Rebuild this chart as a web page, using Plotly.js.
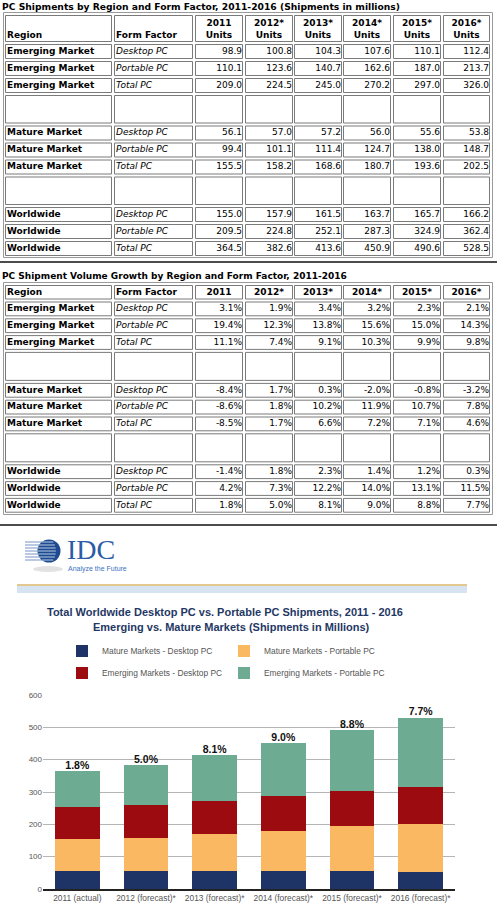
<!DOCTYPE html>
<html><head><meta charset="utf-8">
<script src="https://cdn.plot.ly/plotly-3.0.1.min.js"></script>
<style>html,body{margin:0;padding:0;background:#fff;} #chart{width:497px;height:912px;}</style>
</head><body><div id="chart"></div>
<script>
// ---------------- DATA ----------------
const years = ['2011', '2012*', '2013*', '2014*', '2015*', '2016*'];
const regionEmerging = 'Emerging Market';
const regionMature = 'Mature Market';
const regionWorld = 'Worldwide';
const formFactors = ['Desktop PC', 'Portable PC', 'Total PC'];

const emDesktop = [98.9, 100.8, 104.3, 107.6, 110.1, 112.4];
const emPortable = [110.1, 123.6, 140.7, 162.6, 187.0, 213.7];
const emTotal = [209.0, 224.5, 245.0, 270.2, 297.0, 326.0];
const maDesktop = [56.1, 57.0, 57.2, 56.0, 55.6, 53.8];
const maPortable = [99.4, 101.1, 111.4, 124.7, 138.0, 148.7];
const maTotal = [155.5, 158.2, 168.6, 180.7, 193.6, 202.5];
const wwDesktop = [155.0, 157.9, 161.5, 163.7, 165.7, 166.2];
const wwPortable = [209.5, 224.8, 252.1, 287.3, 324.9, 362.4];
const wwTotal = [364.5, 382.6, 413.6, 450.9, 490.6, 528.5];

const emDesktopG = [3.1, 1.9, 3.4, 3.2, 2.3, 2.1];
const emPortableG = [19.4, 12.3, 13.8, 15.6, 15.0, 14.3];
const emTotalG = [11.1, 7.4, 9.1, 10.3, 9.9, 9.8];
const maDesktopG = [-8.4, 1.7, 0.3, -2.0, -0.8, -3.2];
const maPortableG = [-8.6, 1.8, 10.2, 11.9, 10.7, 7.8];
const maTotalG = [-8.5, 1.7, 6.6, 7.2, 7.1, 4.6];
const wwDesktopG = [-1.4, 1.8, 2.3, 1.4, 1.2, 0.3];
const wwPortableG = [4.2, 7.3, 12.2, 14.0, 13.1, 11.5];
const wwTotalG = [1.8, 5.0, 8.1, 9.0, 8.8, 7.7];

const chartCategories = ['2011 (actual)', '2012 (forecast)*', '2013 (forecast)*', '2014 (forecast)*', '2015 (forecast)*', '2016 (forecast)*'];
const seriesNames = ['Mature Markets - Desktop PC', 'Mature Markets - Portable PC', 'Emerging Markets - Desktop PC', 'Emerging Markets - Portable PC'];

// ---------------- LAYOUT HELPERS ----------------
const W = 497, H = 912;
const TOPH = 525;               // height of the table area (pixel axis x2/y2)
const px = x => x / W;
const py = y => 1 - y / H;
const TFONT = 'DejaVu Sans';

const colL = [5, 114, 195, 245, 294, 343, 393, 443];
const colR = [112, 193, 243, 293, 342, 391, 441, 490];

function rowsGeom(start, kinds, hH, dH, bH, gap) {
  let y = start; const out = [];
  kinds.forEach(k => { const h = k === 'h' ? hH : (k === 'd' ? dH : bH); out.push({k, top: y, bot: y + h, mid: y + h / 2}); y += h + gap; });
  return out;
}
const kinds = ['h','d','d','d','b','d','d','d','b','d','d','d'];
const g1 = rowsGeom(15, kinds, 27, 15, 28.5, 2);
const g2 = rowsGeom(285, kinds, 14.5, 14.8, 29, 2);

const shapes = [];
function tableShapes(geom, outerTop, outerBot) {
  shapes.push({type: 'rect', xref: 'x2', yref: 'y2', x0: 3.5, x1: 492.5, y0: outerTop, y1: outerBot, line: {color: '#9a9a9a', width: 1}});
  geom.forEach(r => colL.forEach((l, i) => shapes.push({type: 'rect', xref: 'x2', yref: 'y2',
    x0: l + 0.5, x1: colR[i] - 0.5, y0: r.top + 0.5, y1: r.bot - 0.5, line: {color: '#7a7a7a', width: 1}})));
}
tableShapes(g1, 12.5, 257.5);
tableShapes(g2, 282.5, 514.5);

// text cells: placed through the hidden pixel axes x2/y2
function cellCollector() { return {x: [], y: [], text: [], pos: []}; }
function addCell(c, col, yMid, txt, align) {
  let x, p;
  if (align === 'left') { x = colL[col] + 2; p = 'middle right'; }
  else if (align === 'right') { x = colR[col] - 1; p = 'middle left'; }
  else { x = (colL[col] + colR[col]) / 2; p = 'middle center'; }
  c.x.push(x); c.y.push(yMid); c.text.push(txt); c.pos.push(p);
}
function addBlock(c, geomRows, region, series, fmt) {
  series.forEach((s, r) => {
    const ym = geomRows[r].mid;
    addCell(c, 0, ym, '<b>' + region + '</b>', 'left');
    addCell(c, 1, ym, '<i>' + formFactors[r] + '</i>', 'left');
    years.forEach((y, j) => addCell(c, j + 2, ym, fmt(s[j]), 'right'));
  });
}
const fmtU = v => v.toFixed(1);
const fmtG = v => v.toFixed(1) + '%';

const t1 = cellCollector();
// two-line header of table 1 (baselines ~27 and ~39)
const h1a = 27 - 3.2, h1b = 39 - 3.2;
addCell(t1, 0, h1b, '<b>Region</b>', 'left');
addCell(t1, 1, h1b, '<b>Form Factor</b>', 'left');
years.forEach((y, j) => { addCell(t1, j + 2, h1a, '<b>' + y + '</b>', 'center'); addCell(t1, j + 2, h1b, '<b>Units</b>', 'center'); });
addBlock(t1, g1.slice(1, 4), regionEmerging, [emDesktop, emPortable, emTotal], fmtU);
addBlock(t1, g1.slice(5, 8), regionMature, [maDesktop, maPortable, maTotal], fmtU);
addBlock(t1, g1.slice(9, 12), regionWorld, [wwDesktop, wwPortable, wwTotal], fmtU);

const t2 = cellCollector();
addCell(t2, 0, g2[0].mid, '<b>Region</b>', 'left');
addCell(t2, 1, g2[0].mid, '<b>Form Factor</b>', 'left');
years.forEach((y, j) => addCell(t2, j + 2, g2[0].mid, '<b>' + y + '</b>', 'center'));
addBlock(t2, g2.slice(1, 4), regionEmerging, [emDesktopG, emPortableG, emTotalG], fmtG);
addBlock(t2, g2.slice(5, 8), regionMature, [maDesktopG, maPortableG, maTotalG], fmtG);
addBlock(t2, g2.slice(9, 12), regionWorld, [wwDesktopG, wwPortableG, wwTotalG], fmtG);

const traces = [];
[t1, t2].forEach((c, i) => traces.push({type: 'scatter', mode: 'text', xaxis: 'x2', yaxis: 'y2',
  name: i === 0 ? 'PC Shipments table' : 'Growth table', x: c.x, y: c.y, text: c.text, textposition: c.pos,
  textfont: {family: TFONT, size: 9, color: '#000'}, showlegend: false, cliponaxis: false, hoverinfo: 'skip'}));

// ---------------- BAR CHART ----------------
const barColors = ['#1f3466', '#fbb863', '#9b0b10', '#6dab93'];
const barSeries = [maDesktop, maPortable, emDesktop, emPortable];
barSeries.forEach((s, i) => traces.push({type: 'bar', x: chartCategories, y: s, name: seriesNames[i],
  marker: {color: barColors[i], line: {width: 0}}, legend: i < 2 ? 'legend' : 'legend2', hoverinfo: 'skip'}));
traces.push({type: 'scatter', mode: 'text', x: chartCategories, y: wwTotal, text: wwTotalG.map(fmtG),
  textposition: 'top center', textfont: {family: 'Liberation Sans', size: 10.5, color: '#111', weight: 'bold'},
  showlegend: false, cliponaxis: false, hoverinfo: 'skip'});

// separators & logo decoration
shapes.push({type: 'line', xref: 'paper', yref: 'paper', x0: 0, x1: 1, y0: py(262), y1: py(262), line: {color: '#111', width: 1.5}});
shapes.push({type: 'line', xref: 'paper', yref: 'paper', x0: 0, x1: 1, y0: py(525), y1: py(525), line: {color: '#111', width: 1.5}});
shapes.push({type: 'line', xref: 'paper', yref: 'paper', x0: px(17), x1: px(467), y0: py(585), y1: py(585), line: {color: '#d8b568', width: 1.5}});
shapes.push({type: 'rect', xref: 'paper', yref: 'paper', x0: px(17), x1: px(467), y0: py(586), y1: py(593), fillcolor: '#d6e4f1', line: {width: 0}});
const gcx = 49, gcy = 551, gr = 11.5;
shapes.push({type: 'circle', xref: 'paper', yref: 'paper', x0: px(gcx - 16), x1: px(gcx + 14), y0: py(566), y1: py(572), fillcolor: '#e2e2e2', line: {width: 0}});
for (let k = 0; k < 7; k++) {
  const yy = 542 + 3 * k;
  shapes.push({type: 'line', xref: 'paper', yref: 'paper', x0: px(25), x1: px(gcx), y0: py(yy), y1: py(yy), line: {color: '#8ea7cf', width: 1.2}});
}
shapes.push({type: 'circle', xref: 'paper', yref: 'paper', x0: px(gcx - gr), x1: px(gcx + gr), y0: py(gcy + gr), y1: py(gcy - gr), fillcolor: '#1d4a90', line: {width: 0}});
for (let k = 0; k < 7; k++) {
  const yy = 542 + 3 * k, dy = yy - gcy;
  const hw = Math.sqrt(Math.max(0, gr * gr - dy * dy));
  shapes.push({type: 'line', xref: 'paper', yref: 'paper', x0: px(gcx - hw), x1: px(gcx + hw * 0.6), y0: py(yy), y1: py(yy), line: {color: 'rgba(215,228,246,0.85)', width: 1}});
}

const annotations = [
  {x: px(1), y: py(6.5), text: '<b>PC Shipments by Region and Form Factor, 2011-2016 (Shipments in millions)</b>', xanchor: 'left', font: {family: TFONT, size: 9.2, color: '#000'}},
  {x: px(1), y: py(276), text: '<b>PC Shipment Volume Growth by Region and Form Factor, 2011-2016</b>', xanchor: 'left', font: {family: TFONT, size: 9, color: '#000'}},
  {x: px(66), y: py(549), text: 'IDC', xanchor: 'left', font: {family: 'Liberation Serif', size: 28, color: '#2d5ca6'}},
  {x: px(67), y: py(569), text: 'Analyze the Future', xanchor: 'left', font: {family: 'Liberation Sans', size: 7, color: '#3a73c2'}},
  {x: px(225), y: py(611.5), text: '<b>Total Worldwide Desktop PC vs. Portable PC Shipments, 2011 - 2016</b>', xanchor: 'center', font: {family: 'Liberation Sans', size: 11, color: '#1f3864'}},
  {x: px(231), y: py(627), text: '<b>Emerging vs. Mature Markets (Shipments in Millions)</b>', xanchor: 'center', font: {family: 'Liberation Sans', size: 11, color: '#1f3864'}}
].map(a => Object.assign({xref: 'paper', yref: 'paper', yanchor: 'middle', showarrow: false, borderpad: 0}, a));

const legendBase = {orientation: 'h', xanchor: 'left', yanchor: 'middle', x: px(62), entrywidth: 117, entrywidthmode: 'pixels',
  traceorder: 'normal', bgcolor: 'rgba(0,0,0,0)', font: {family: 'Liberation Sans', size: 8.4, color: '#555'}};

const tickFont = {family: 'Liberation Sans', size: 8.4, color: '#555'};
const layout = {
  width: W, height: H, margin: {l: 0, r: 0, t: 0, b: 0}, paper_bgcolor: '#fff', plot_bgcolor: 'rgba(0,0,0,0)',
  showlegend: true, barmode: 'stack', bargap: 0.345,
  legend: Object.assign({}, legendBase, {y: py(651)}),
  legend2: Object.assign({}, legendBase, {y: py(673)}),
  xaxis: {domain: [px(43), px(455)], anchor: 'y', type: 'category', showline: true, linecolor: '#222', linewidth: 1.5,
    ticks: '', showgrid: false, zeroline: false, tickfont: tickFont, fixedrange: true},
  yaxis: {domain: [py(889), py(695)], anchor: 'x', range: [0, 600], dtick: 100, showline: false, ticks: '',
    gridcolor: '#b5b5b5', gridwidth: 1, zeroline: false, tickfont: {family: 'Liberation Sans', size: 8, color: '#555'}, fixedrange: true},
  xaxis2: {domain: [0, 1], anchor: 'y2', range: [0, W], visible: false, fixedrange: true},
  yaxis2: {domain: [py(TOPH), 1], anchor: 'x2', range: [TOPH, 0], visible: false, fixedrange: true},
  shapes: shapes, annotations: annotations
};
Plotly.newPlot('chart', traces, layout, {displayModeBar: false, staticPlot: true});
</script>
</body></html>
